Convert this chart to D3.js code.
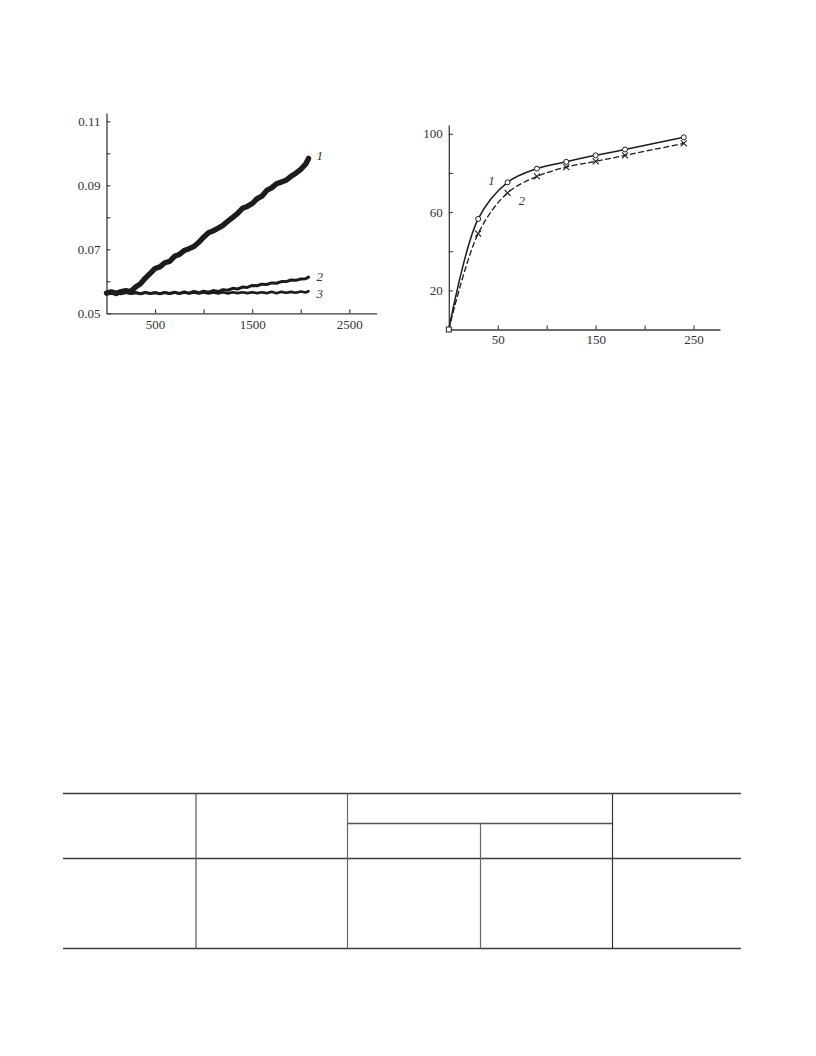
<!DOCTYPE html>
<html>
<head>
<meta charset="utf-8">
<script src="https://cdn.jsdelivr.net/npm/d3@7"></script>
<style>
  html, body { margin: 0; padding: 0; background: #fff; }
  svg { display: block; }
  text { font-family: "Liberation Serif", "Times New Roman", serif; fill: #333; }
</style>
</head>
<body>
<svg id="page" width="816" height="1056"></svg>
<script>
// ---------- Left chart data ----------
const leftX = [0,50,100,150,200,250,300,350,400,450,500,550,600,650,700,750,800,850,900,950,
  1000,1050,1100,1150,1200,1250,1300,1350,1400,1450,1500,1550,1600,1650,1700,1750,1800,1850,
  1900,1950,2000,2050,2080];
const curve1 = [0.0563,0.0567,0.0562,0.0568,0.0571,0.0568,0.0582,0.0592,0.0610,0.0625,
  0.0640,0.0645,0.0658,0.0662,0.0678,0.0684,0.0696,0.0702,0.0709,0.0722,
  0.0738,0.0752,0.0758,0.0766,0.0775,0.0788,0.0800,0.0812,0.0828,0.0834,
  0.0843,0.0858,0.0866,0.0884,0.0892,0.0905,0.0910,0.0916,0.0928,0.0938,
  0.0950,0.0966,0.0984];
const curve2 = [0.0565,0.0562,0.0566,0.0561,0.0565,0.0562,0.0564,0.0561,0.0565,0.0562,
  0.0564,0.0561,0.0565,0.0562,0.0566,0.0562,0.0567,0.0563,0.0568,0.0564,
  0.0569,0.0566,0.0571,0.0568,0.0574,0.0572,0.0578,0.0576,0.0582,0.0581,
  0.0587,0.0586,0.0591,0.0590,0.0595,0.0594,0.0599,0.0599,0.0604,0.0603,
  0.0607,0.0608,0.0613];
const curve3 = [0.0566,0.0563,0.0566,0.0563,0.0566,0.0562,0.0565,0.0562,0.0565,0.0562,
  0.0565,0.0562,0.0565,0.0561,0.0565,0.0562,0.0565,0.0562,0.0565,0.0562,
  0.0565,0.0562,0.0565,0.0562,0.0566,0.0562,0.0566,0.0563,0.0566,0.0563,
  0.0566,0.0563,0.0566,0.0563,0.0567,0.0563,0.0567,0.0564,0.0567,0.0564,
  0.0568,0.0565,0.0569];
const leftXTicks = [500,1000,1500,2000,2500];
const leftXLabels = ["500","","1500","","2500"];
const leftYTicks = [0.05,0.06,0.07,0.08,0.09,0.10,0.11];
const leftYLabels = ["0.05","","0.07","","0.09","","0.11"];

// ---------- Right chart data ----------
const rightX = [0,30,60,90,120,150,180,240];
const rightS1 = [0,56.5,75.2,82.2,85.7,89,92,98.2];
const rightS2 = [0,49,69.8,78.2,83,85.9,89,95.1];
const rightXTicks = [50,100,150,200,250];
const rightXLabels = ["50","","150","","250"];
const rightYTicks = [20,40,60,80,100];
const rightYLabels = ["20","","60","","100"];

const svg = d3.select("#page");
const axisColor = "#3a3a3a";
const lineColor = "#1c1c1c";

function drawAxes(g, x, y, xTicks, xLabels, yTicks, yLabels, xLabelDy) {
  const xAxis = d3.axisBottom(x).tickValues(xTicks).tickSizeInner(-4).tickSizeOuter(0)
    .tickFormat((d,i) => xLabels[i]);
  const yAxis = d3.axisLeft(y).tickValues(yTicks).tickSizeInner(-4).tickSizeOuter(0)
    .tickFormat((d,i) => yLabels[i]);
  const gx = g.append("g").attr("transform", `translate(0,${y.range()[0]})`).call(xAxis);
  const gy = g.append("g").attr("transform", `translate(${x.range()[0]},0)`).call(yAxis);
  [gx, gy].forEach(a => {
    a.select(".domain").attr("stroke", axisColor).attr("stroke-width", 1.3);
    a.selectAll(".tick line").attr("stroke", axisColor).attr("stroke-width", 1.1);
    a.selectAll(".tick text").attr("font-family", "Liberation Serif, serif")
      .attr("font-size", 13).attr("fill", "#333");
  });
  gx.selectAll(".tick text").attr("y", xLabelDy).attr("dy", "0.71em");
  gy.selectAll(".tick text").attr("x", -6);
}

// ---------- Left chart ----------
{
  const x = d3.scaleLinear().domain([0, 2780]).range([106.5, 376.5]);
  const y = d3.scaleLinear().domain([0.05, 0.1126]).range([313.3, 113]);
  const g = svg.append("g");
  drawAxes(g, x, y, leftXTicks, leftXLabels, leftYTicks, leftYLabels, 6);

  const line = d3.line().x((d,i) => x(leftX[i])).y(d => y(d)).curve(d3.curveLinear);
  const series = [
    {v: curve3, w: 2.6},
    {v: curve2, w: 3.0},
    {v: curve1, w: 5.4}
  ];
  series.forEach(s => {
    g.append("path").datum(s.v).attr("d", line)
      .attr("fill", "none").attr("stroke", lineColor)
      .attr("stroke-width", s.w).attr("stroke-linejoin", "round").attr("stroke-linecap", "round");
  });
  const lastX = leftX[leftX.length - 1];
  const labelPos = [
    {t: "1", v: curve1[curve1.length-1], dy: -3},
    {t: "2", v: curve2[curve2.length-1], dy: -1},
    {t: "3", v: curve3[curve3.length-1], dy: 2}
  ];
  labelPos.forEach(l => {
    g.append("text").attr("x", x(lastX) + 8).attr("y", y(l.v) + l.dy)
      .attr("dy", "0.35em").attr("font-style", "italic").attr("font-size", 13)
      .text(l.t);
  });
}

// ---------- Right chart ----------
{
  const x = d3.scaleLinear().domain([0, 277]).range([448.8, 720]);
  const y = d3.scaleLinear().domain([0, 104.5]).range([329.5, 125]);
  const g = svg.append("g");
  drawAxes(g, x, y, rightXTicks, rightXLabels, rightYTicks, rightYLabels, 5);

  const line = d3.line().x((d,i) => x(rightX[i])).y(d => y(d)).curve(d3.curveCatmullRom.alpha(0.5));
  g.append("path").datum(rightS2).attr("d", line).attr("fill", "none")
    .attr("stroke", lineColor).attr("stroke-width", 1.3).attr("stroke-dasharray", "6,2.5");
  g.append("path").datum(rightS1).attr("d", line).attr("fill", "none")
    .attr("stroke", lineColor).attr("stroke-width", 1.5);

  // markers series 2: crosses
  rightS2.forEach((v,i) => {
    if (i === 0) return;
    const cx = x(rightX[i]), cy = y(v), s = 3;
    g.append("path").attr("d", `M${cx-s},${cy-s}L${cx+s},${cy+s}M${cx-s},${cy+s}L${cx+s},${cy-s}`)
      .attr("stroke", lineColor).attr("stroke-width", 1.1);
  });
  // markers series 1: open circles
  rightS1.forEach((v,i) => {
    if (i === 0) return;
    g.append("circle").attr("cx", x(rightX[i])).attr("cy", y(v)).attr("r", 2.5)
      .attr("fill", "#fff").attr("stroke", lineColor).attr("stroke-width", 1);
  });
  // origin marker (square)
  g.append("rect").attr("x", x(rightX[0]) - 2.5).attr("y", y(rightS1[0]) - 2.5)
    .attr("width", 5).attr("height", 5).attr("fill", "#fff")
    .attr("stroke", lineColor).attr("stroke-width", 1);

  g.append("text").attr("x", x(rightX[1]) + 10).attr("y", y(rightS1[2]) + 3)
    .attr("font-style", "italic").attr("font-size", 13).text("1");
  g.append("text").attr("x", x(rightX[2]) + 11).attr("y", y(rightS2[2]) + 12)
    .attr("font-style", "italic").attr("font-size", 13).text("2");
}

// ---------- Empty table ----------
{
  const g = svg.append("g");
  const L = 63, R = 741;
  const top = 793.5, mid = 823.5, head = 858.5, bot = 948.5;
  const cols = [196, 347.5, 480.5, 612.5];
  const hl = (x1, x2, yy, c) => g.append("line").attr("x1", x1).attr("x2", x2)
    .attr("y1", yy).attr("y2", yy).attr("stroke", c).attr("stroke-width", 1.3);
  const vl = (xx, y1, y2, c) => g.append("line").attr("x1", xx).attr("x2", xx)
    .attr("y1", y1).attr("y2", y2).attr("stroke", c).attr("stroke-width", 1.2);
  hl(L, R, top, "#3c3c3c");
  hl(L, R, head, "#3c3c3c");
  hl(L, R, bot, "#3c3c3c");
  hl(cols[1], cols[3], mid, "#555");
  vl(cols[0], top, bot, "#555");
  vl(cols[1], top, bot, "#666");
  vl(cols[2], mid, bot, "#666");
  vl(cols[3], top, bot, "#333");
}
</script>
</body>
</html>
